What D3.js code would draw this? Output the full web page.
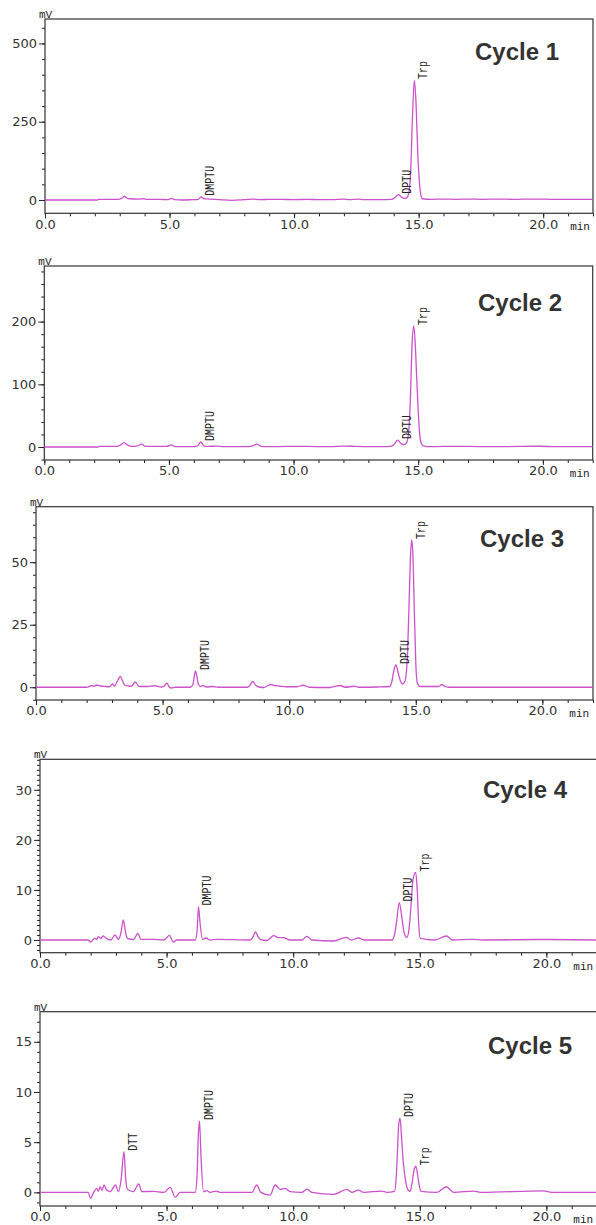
<!DOCTYPE html>
<html>
<head>
<meta charset="utf-8">
<script src="https://cdn.jsdelivr.net/npm/d3@7"></script>
<style>
	body { margin: 0; background: #fff; }
	svg { display: block; }
	.axis text { font-family: "DejaVu Sans", Verdana, sans-serif; font-size: 13px; fill: #333; }
	.axis line { stroke: #222; }
</style>
</head>
<body>
<div id="chart"></div>
<script>
///////////////////////////////////////////////////////////////////////////
//////////////////////////// data /////////////////////////////////////////
///////////////////////////////////////////////////////////////////////////

const cycleNames = ["Cycle 1", "Cycle 2", "Cycle 3", "Cycle 4", "Cycle 5"];

// [time (min), signal (mV)]
const cycle1 = [
	[0, 0], [2.1, 0], [2.15, 2], [2.9, 2], [3.08, 5], [3.19, 12], [3.28, 6], [3.4, 4], [3.8, 3], [3.95, 4],
	[4.1, 2], [4.6, 2], [4.9, 1], [5.09, 5], [5.2, 1], [5.5, 0], [5.9, 1], [6.15, 2], [6.27, 10], [6.38, 4],
	[6.6, 3], [7.0, 1], [7.5, -1], [8.0, 1], [8.37, 3], [8.6, 1], [9.0, 2], [9.5, 2], [10.0, 1], [10.5, 2],
	[11.0, 1], [11.5, 1], [11.98, 3], [12.2, 1], [12.58, 3], [12.8, 1], [13.5, 1], [13.9, 2], [14.05, 8],
	[14.19, 17], [14.3, 10], [14.42, 5], [14.52, 7], [14.6, 20], [14.68, 90], [14.75, 260], [14.83, 383],
	[14.9, 300], [14.96, 160], [15.02, 70], [15.08, 20], [15.15, 4], [15.5, 2], [16.0, 3], [16.5, 2],
	[17.07, 3], [17.5, 2], [18.3, 3], [18.8, 2], [19.8, 3], [20.3, 2], [22, 2]
];
const cycle2 = [
	[0, 0], [2.15, 0], [2.2, 1], [2.9, 1], [3.05, 3], [3.2, 7], [3.35, 3], [3.5, 1], [3.75, 2], [3.91, 4.5],
	[4.05, 1], [4.5, 1], [4.9, 1], [5.11, 3.5], [5.25, 0.5], [5.9, 0.5], [6.15, 2], [6.28, 8], [6.4, 2],
	[6.55, 1], [6.92, 1.5], [7.2, 0.5], [8.2, 0.5], [8.35, 2], [8.53, 4.5], [8.7, 1], [9.0, 0.5], [9.7, 1],
	[10.5, 1], [11.5, 0.5], [12.0, 1.5], [12.5, 1], [13.5, 0.5], [13.9, 1], [14.05, 5], [14.18, 11],
	[14.3, 6], [14.42, 3.5], [14.52, 6], [14.6, 18], [14.68, 70], [14.75, 160], [14.82, 193], [14.88, 165],
	[14.94, 110], [14.98, 75], [15.05, 25], [15.12, 6], [15.2, 2], [15.5, 0.5], [16.0, 1], [17.0, 1],
	[18.0, 0.5], [19.9, 1.2], [20.5, 0.5], [22, 0.5]
];
const cycle3 = [
	[0, 0], [2.0, 0], [2.1, 0.3], [2.2, 0.6], [2.3, 0.4], [2.4, 0.9], [2.55, 0.5], [2.75, 0.3], [2.9, 0.2],
	[3.02, 1.3], [3.1, 0.4], [3.2, 2.2], [3.33, 4.3], [3.42, 2.5], [3.5, 0.9], [3.65, 0.5], [3.77, 0.4],
	[3.92, 2.1], [4.07, 0.3], [4.4, 0.3], [4.68, 0.6], [4.95, 0.1], [5.05, 0.4], [5.17, 1.6], [5.27, 0.1],
	[5.34, -0.3], [5.5, 0], [6.1, 0], [6.2, 1.2], [6.26, 5], [6.3, 6.5], [6.35, 4.5], [6.42, 1], [6.5, 0.3],
	[6.6, 0.7], [6.72, 0.1], [6.98, 0.3], [7.2, 0], [8.36, 0], [8.45, 0.8], [8.56, 2.3], [8.68, 0.8],
	[8.8, 0.1], [9.0, -0.1], [9.15, 0.6], [9.28, 1.1], [9.45, 0.6], [9.6, 0.5], [9.87, 0.2], [10.3, 0.2],
	[10.55, 0.8], [10.8, 0], [11.6, -0.1], [12.03, 0.7], [12.2, 0], [12.56, 0.4], [12.75, 0], [13.5, 0.1],
	[13.98, 0.3], [14.06, 2.5], [14.14, 7], [14.22, 8.9], [14.3, 6], [14.4, 2.3], [14.48, 1.3], [14.55, 2],
	[14.6, 3.5], [14.68, 15], [14.74, 35], [14.79, 52], [14.84, 58.9], [14.89, 52], [14.94, 32], [15.0, 10],
	[15.06, 1.6], [15.18, 0.3], [15.9, 0.3], [16.04, 1.1], [16.15, 0.3], [16.3, 0], [22, 0]
];
const cycle4 = [
	[0, 0], [1.9, 0], [2.0, -0.4], [2.1, 0.1], [2.17, 0.33], [2.24, 0.1], [2.3, 0.67], [2.4, 0.3], [2.5, 0.8],
	[2.63, 0.27], [2.8, 0], [2.96, 1.0], [3.1, 0.13], [3.2, 1.5], [3.29, 4.0], [3.37, 1.8], [3.45, 0.33],
	[3.7, 0.1], [3.86, 1.33], [3.99, 0.13], [4.48, 0.13], [4.9, 0], [5.11, 0.93], [5.27, -0.4], [5.4, 0],
	[6.13, 0], [6.2, 1.5], [6.26, 6.67], [6.32, 3.5], [6.42, 0.13], [6.56, 0.4], [6.7, 0], [7.0, 0.13],
	[8.3, 0], [8.4, 0.5], [8.51, 1.6], [8.62, 0.6], [8.7, 0.13], [8.96, -0.1], [9.1, 0.4], [9.22, 0.87],
	[9.42, 0.47], [9.62, 0.47], [9.88, 0], [10.35, 0], [10.54, 0.73], [10.74, 0], [11.6, -0.2], [12.1, 0.53],
	[12.3, 0], [12.58, 0.4], [12.8, 0], [13.9, 0], [14.0, 1], [14.08, 3.5], [14.19, 7.47], [14.28, 5],
	[14.38, 1.5], [14.49, 0.53], [14.57, 2], [14.65, 6.5], [14.73, 12], [14.84, 13.5], [14.9, 10], [14.96, 3],
	[15.02, 0.33], [15.6, 0], [16.05, 0.8], [16.3, 0], [17.08, 0.13], [17.5, 0], [19.8, 0.1], [22, 0]
];
const cycle5 = [
	[0, 0], [1.9, 0], [2.0, -0.6], [2.1, -0.1], [2.24, 0.4], [2.3, 0.1], [2.37, 0.56], [2.45, 0.2], [2.53, 0.73],
	[2.63, 0.23], [2.77, 0.07], [2.98, 0.73], [3.1, 0.07], [3.2, 1.2], [3.32, 4.05], [3.38, 1.5], [3.45, 0.3],
	[3.69, 0.07], [3.9, 0.83], [4.02, 0.07], [4.48, 0.1], [4.9, 0], [5.14, 0.5], [5.34, -0.5], [5.53, 0],
	[6.13, 0], [6.2, 1.5], [6.25, 5.5], [6.3, 7.1], [6.36, 3.5], [6.46, 0.07], [6.59, 0.17], [6.72, 0],
	[6.96, 0.13], [7.11, 0], [8.37, 0], [8.56, 0.73], [8.72, 0], [9.09, -0.27], [9.29, 0.73], [9.49, 0.3],
	[9.68, 0.4], [9.88, 0.07], [10.34, 0], [10.54, 0.33], [10.74, 0], [11.6, -0.2], [12.12, 0.3], [12.32, 0],
	[12.58, 0.23], [12.78, 0], [13.5, 0.13], [13.7, 0], [14.0, 0.1], [14.07, 1.5], [14.12, 4.2], [14.17, 6.8],
	[14.22, 7.4], [14.28, 5.5], [14.35, 3], [14.45, 1.0], [14.55, 0.2], [14.62, 0.1], [14.7, 1.0], [14.78, 2.3],
	[14.84, 2.6], [14.9, 2], [14.97, 0.8], [15.05, 0.1], [15.68, 0], [16.05, 0.56], [16.34, 0], [17.13, 0.13],
	[17.4, 0], [19.9, 0.15], [20.2, 0], [22, 0]
];
const traces = [cycle1, cycle2, cycle3, cycle4, cycle5];

// peak names with apex [time, mV]
const peaks1 = [["DMPTU", 6.27, 10], ["DPTU", 14.19, 17], ["Trp", 14.83, 383]];
const peaks2 = [["DMPTU", 6.28, 8], ["DPTU", 14.18, 11], ["Trp", 14.82, 193]];
const peaks3 = [["DMPTU", 6.3, 6.5], ["DPTU", 14.22, 8.9], ["Trp", 14.84, 58.9]];
const peaks4 = [["DMPTU", 6.26, 6.67], ["DPTU", 14.19, 7.47], ["Trp", 14.84, 13.5]];
const peaks5 = [["DTT", 3.32, 4.05], ["DMPTU", 6.3, 7.1], ["DPTU", 14.22, 7.4], ["Trp", 14.84, 2.6]];
const peaks = [peaks1, peaks2, peaks3, peaks4, peaks5];

// axes
const xDomain = [0, 22];
const xMajorTicks = [0, 5, 10, 15, 20];
const yDomains = [[-42.5, 578], [-20.7, 288.7], [-5.1, 72.2], [-2.54, 36.1], [-1.36, 18]];
const yMajorTicks = [[0, 250, 500], [0, 100, 200], [0, 25, 50], [0, 10, 20, 30], [0, 5, 10, 15]];
const yMinorSteps = [50, 20, 5, 1, 1];

///////////////////////////////////////////////////////////////////////////
//////////////////////////// drawing function /////////////////////////////
///////////////////////////////////////////////////////////////////////////

const createChart = () => {
	const width = 596;
	const height = 1225;

	// frame box of each panel + title anchor
	const panels = [
		{ top: 19, left: 45, bottom: 213.3, right: 593, tx: 475, ty: 60 },
		{ top: 266, left: 44.3, bottom: 460, right: 592.7, tx: 478, ty: 311 },
		{ top: 506.7, left: 36, bottom: 700, right: 593, tx: 480, ty: 547 },
		{ top: 759.3, left: 40, bottom: 952.7, right: 597, tx: 483, ty: 798 },
		{ top: 1011.7, left: 40, bottom: 1206, right: 597, tx: 488, ty: 1054 }
	];

	const traceColor = "#cc52cc";
	const monoFont = "'Liberation Mono', 'Courier New', monospace";

	const svg = d3
		.select("#chart")
		.append("svg")
		.attr("width", width)
		.attr("height", height);

	panels.forEach((p, i) => {
		//////////////////////////// scales ///////////////////////////////////////
		const xScale = d3.scaleLinear().domain(xDomain).range([p.left, p.right]);
		const yScale = d3.scaleLinear().domain(yDomains[i]).range([p.bottom, p.top]);

		const g = svg.append("g").attr("class", "panel");

		//////////////////////////// axes /////////////////////////////////////////
		const noDomain = (sel) => sel.select(".domain").remove();

		g.append("g")
			.attr("class", "axis")
			.attr("transform", `translate(0,${p.bottom})`)
			.call(d3.axisBottom(xScale).tickValues(xScale.ticks(22)).tickSize(3).tickFormat(""))
			.call(noDomain);

		g.append("g")
			.attr("class", "axis")
			.attr("transform", `translate(0,${p.bottom})`)
			.call(
				d3.axisBottom(xScale)
					.tickValues(xMajorTicks)
					.tickSize(5)
					.tickPadding(1)
					.tickFormat(d3.format(".1f"))
			)
			.call(noDomain);

		const [y0, y1] = yDomains[i];
		const step = yMinorSteps[i];
		const minor = d3.range(Math.ceil(y0 / step) * step, y1, step);

		g.append("g")
			.attr("class", "axis")
			.attr("transform", `translate(${p.left},0)`)
			.call(d3.axisLeft(yScale).tickValues(minor).tickSize(3).tickFormat(""))
			.call(noDomain);

		g.append("g")
			.attr("class", "axis")
			.attr("transform", `translate(${p.left},0)`)
			.call(
				d3.axisLeft(yScale)
					.tickValues(yMajorTicks[i])
					.tickSize(6)
					.tickPadding(2)
					.tickFormat(d3.format("d"))
			)
			.call(noDomain);

		// frame
		g.append("rect")
			.attr("x", p.left)
			.attr("y", p.top)
			.attr("width", p.right - p.left)
			.attr("height", p.bottom - p.top)
			.attr("fill", "none")
			.attr("stroke", "#333")
			.attr("stroke-width", 1.2);

		// units
		g.append("text")
			.attr("x", p.left - 6)
			.attr("y", p.top - 1)
			.attr("font-family", monoFont)
			.attr("font-size", 11)
			.attr("fill", "#222")
			.text("mV");

		g.append("text")
			.attr("x", xScale(20) + 27)
			.attr("y", p.bottom + 17)
			.attr("font-family", monoFont)
			.attr("font-size", 11)
			.attr("fill", "#222")
			.text("min");

		//////////////////////////// trace ////////////////////////////////////////
		const line = d3
			.line()
			.x((d) => xScale(d[0]))
			.y((d) => yScale(d[1]))
			.curve(d3.curveMonotoneX);

		g.append("path")
			.datum(traces[i])
			.attr("d", line)
			.attr("fill", "none")
			.attr("stroke", traceColor)
			.attr("stroke-width", 1.3);

		//////////////////////////// peak labels //////////////////////////////////
		g.selectAll(".peak")
			.data(peaks[i])
			.enter()
			.append("text")
			.attr("class", "peak")
			.attr(
				"transform",
				(d) => `translate(${xScale(d[1]) + 13},${yScale(d[2]) - 1}) rotate(-90)`
			)
			.attr("font-family", monoFont)
			.attr("font-size", 12.5)
			.attr("fill", "#222")
			.attr("textLength", (d) => d[0].length * 6)
			.attr("lengthAdjust", "spacingAndGlyphs")
			.text((d) => d[0]);

		// title
		g.append("text")
			.attr("x", p.tx)
			.attr("y", p.ty)
			.attr("font-family", "'Liberation Sans', Arial, sans-serif")
			.attr("font-weight", "bold")
			.attr("font-size", 24)
			.attr("fill", "#333")
			.text(cycleNames[i]);
	});
};

createChart();
</script>
</body>
</html>
